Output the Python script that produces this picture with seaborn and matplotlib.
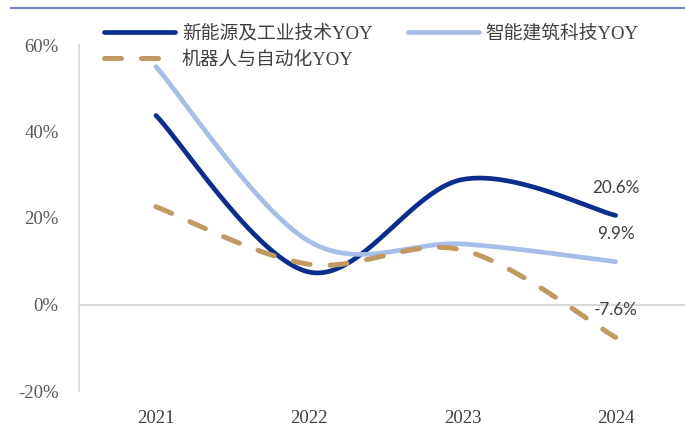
import numpy as np
import pandas as pd
import matplotlib
matplotlib.use("Agg")
import matplotlib.pyplot as plt
import seaborn as sns
from matplotlib.lines import Line2D

# ---- data (YoY growth, %) ----
years = ["2021", "2022", "2023", "2024"]
new_energy = [43.7, 7.5, 28.9, 20.6]
smart_building = [55.0, 14.6, 14.0, 9.9]
robotics = [22.6, 9.3, 12.6, -7.6]
series_names = ["新能源及工业技术YOY", "智能建筑科技YOY", "机器人与自动化YOY"]
y_ticks = [-20, 0, 20, 40, 60]

colors = ["#0B2D8C", "#A8BDE7", "#C09A62"]
widths = [3.4, 3.4, 3.6]


def smooth(values, steps=60):
    """Cardinal (Catmull-Rom) Bezier smoothing through every point."""
    y = np.asarray(values, float)
    x = np.arange(len(y), dtype=float)
    pts = np.column_stack([x, y])
    ext = np.vstack([pts[0], pts, pts[-1]])
    out = []
    t = np.linspace(0, 1, steps)[:, None]
    for i in range(len(pts) - 1):
        p0, p3 = ext[i + 1], ext[i + 2]
        c1 = p0 + (ext[i + 2] - ext[i]) / 6.0
        c2 = p3 - (ext[i + 3] - ext[i + 1]) / 6.0
        seg = ((1 - t) ** 3) * p0 + 3 * ((1 - t) ** 2) * t * c1 + 3 * (1 - t) * t ** 2 * c2 + t ** 3 * p3
        out.append(seg if i == 0 else seg[1:])
    seg = np.vstack(out)
    return seg[:, 0], seg[:, 1]


frames = []
for name, vals in zip(series_names, [new_energy, smart_building, robotics]):
    xs, ys = smooth(vals)
    frames.append(pd.DataFrame({"x": xs, "y": ys, "series": name}))
df = pd.concat(frames, ignore_index=True)

sns.set_theme(style="white")
plt.rcParams["font.family"] = ["Liberation Serif", "Noto Sans CJK SC"]

fig = plt.figure(figsize=(6.85, 4.29), dpi=100)
ax = fig.add_axes([79.4 / 685, 1 - 391 / 429, 612.8 / 685, (391 - 45) / 429])

dash = (3.4, 4.0)
for name, col, lw in zip(series_names, colors, widths):
    sub = df[df["series"] == name]
    sns.lineplot(data=sub, x="x", y="y", ax=ax, color=col, linewidth=lw,
                 sort=False, estimator=None, legend=False)
    line = ax.lines[-1]
    line.set_solid_capstyle("round")
    if name == series_names[2]:
        line.set_dashes(dash)
        line.set_dash_capstyle("round")

# value labels at the last year
for vals, col in zip([new_energy, smart_building, robotics], colors):
    v = vals[-1]
    ax.annotate(f"{v:.1f}%", xy=(len(vals) - 1, v), xytext=(0, 20),
                textcoords="offset points", ha="center", va="center",
                fontsize=12.3, family="Lato", color="#404040")

ax.set_xlim(-0.5, len(years) - 0.5)
ax.set_ylim(-20, 60)
ax.set_xticks(range(len(years)))
ax.set_xticklabels(years)
ax.set_yticks(y_ticks)
ax.set_yticklabels([f"{v}%" for v in y_ticks])
ax.set_xlabel("")
ax.set_ylabel("")
ax.tick_params(axis="y", length=0, pad=15, labelsize=13.5, labelcolor="#595959")
ax.tick_params(axis="x", length=0, pad=14, labelsize=13.5, labelcolor="#404040")

for s in ["top", "right", "bottom"]:
    ax.spines[s].set_visible(False)
ax.spines["left"].set_color("#D9D9D9")
ax.spines["left"].set_linewidth(1.3)
ax.axhline(0, color="#D9D9D9", linewidth=1.5, zorder=0, clip_on=False)

# legend: two entries on the first row, the third below the first
handles = []
for name, col, lw in zip(series_names, colors, widths):
    h = Line2D([], [], color=col, linewidth=lw, solid_capstyle="round")
    if name == series_names[2]:
        h.set_dashes(dash)
        h.set_dash_capstyle("round")
    handles.append(h)
order = [0, 2, 1]
leg = fig.legend([handles[i] for i in order], [series_names[i] for i in order],
                 loc="upper left", bbox_to_anchor=(104 / 685, 1 - 25 / 429), ncol=2,
                 frameon=False, fontsize=13.5, handlelength=3.8,
                 handletextpad=0.35, columnspacing=1.9, labelspacing=0.42,
                 borderpad=0, borderaxespad=0)
for t in leg.get_texts():
    t.set_color("#404040")

# thin rule along the top edge
fig.add_artist(Line2D([11 / 685, 1.0], [1 - 8 / 429, 1 - 8 / 429],
                      transform=fig.transFigure, color="#6F88C2", linewidth=1.6))

fig.savefig("out.png", dpi=100)
